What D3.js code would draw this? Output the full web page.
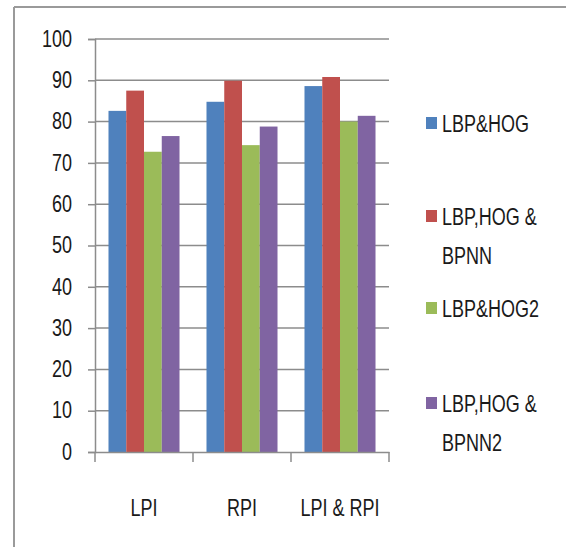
<!DOCTYPE html>
<html>
<head>
<meta charset="utf-8">
<script src="https://cdn.jsdelivr.net/npm/d3@7"></script>
<style>
	body { margin: 0; background: #fff; }
	svg text { font-family: "Liberation Sans", Arial, sans-serif; fill: #1a1a1a; }
</style>
</head>
<body>
<svg id="chart" width="566" height="547"></svg>
<script>
const categories = ['LPI', 'RPI', 'LPI & RPI'];
const seriesNames = ['LBP&HOG', 'LBP,HOG & BPNN', 'LBP&HOG2', 'LBP,HOG & BPNN2'];
const legendLines = [['LBP&HOG'], ['LBP,HOG &', 'BPNN'], ['LBP&HOG2'], ['LBP,HOG &', 'BPNN2']];
const lbpHog = [82.6, 84.8, 88.6];
const lbpHogBpnn = [87.5, 89.9, 90.8];
const lbpHog2 = [72.7, 74.3, 80.0];
const lbpHogBpnn2 = [76.5, 78.8, 81.4];
const yTicks = [0, 10, 20, 30, 40, 50, 60, 70, 80, 90, 100];
const colors = ['#4F81BD', '#C0504D', '#9BBB59', '#8064A2'];

const values = [lbpHog, lbpHogBpnn, lbpHog2, lbpHogBpnn2];
const svg = d3.select('#chart');
const stretch = 1.35;

// outer frame (only top and left edges are visible)
svg.append('line').attr('x1', 14).attr('x2', 566).attr('y1', 7).attr('y2', 7)
	.attr('stroke', '#9a9a9a').attr('stroke-width', 2);
svg.append('line').attr('x1', 14).attr('x2', 14).attr('y1', 7).attr('y2', 547)
	.attr('stroke', '#9a9a9a').attr('stroke-width', 2);

const plot = { left: 95, right: 389, top: 39, bottom: 452 };
const x0 = d3.scaleBand().domain(categories).range([plot.left, plot.right]).padding(0);
const x1 = d3.scaleBand().domain(seriesNames).range([0, x0.bandwidth()])
	.paddingInner(0).paddingOuter(0.76);
const y = d3.scaleLinear().domain([0, 100]).range([plot.bottom, plot.top]);

// gridlines
svg.append('g')
	.selectAll('line')
	.data(yTicks.filter(d => d > 0))
	.enter().append('line')
	.attr('x1', plot.left).attr('x2', plot.right)
	.attr('y1', d => y(d)).attr('y2', d => y(d))
	.attr('stroke', '#8c8c8c').attr('stroke-width', 1.5);

// bars
const groups = svg.append('g')
	.selectAll('g')
	.data(categories)
	.enter().append('g')
	.attr('transform', d => `translate(${x0(d)},0)`);

groups.selectAll('rect')
	.data((c, ci) => seriesNames.map((s, si) => ({ s, si, v: values[si][ci] })))
	.enter().append('rect')
	.attr('x', d => x1(d.s))
	.attr('width', x1.bandwidth())
	.attr('y', d => y(d.v))
	.attr('height', d => y(0) - y(d.v))
	.attr('fill', d => colors[d.si]);

// y axis
const yAxis = svg.append('g')
	.attr('transform', `translate(${plot.left},0)`)
	.call(d3.axisLeft(y).tickValues(yTicks).tickSize(7).tickPadding(16));
yAxis.select('.domain').attr('stroke', '#8c8c8c').attr('stroke-width', 1.5);
yAxis.selectAll('.tick line').attr('stroke', '#8c8c8c').attr('stroke-width', 1.5);
yAxis.selectAll('.tick text')
	.attr('font-size', 18)
	.attr('font-family', '"Liberation Sans", Arial, sans-serif')
	.attr('fill', '#1a1a1a')
	.attr('dy', '0.3em')
	.attr('transform', `scale(1,${stretch})`);

// x axis
const xAxis = svg.append('g')
	.attr('transform', `translate(0,${plot.bottom})`)
	.call(d3.axisBottom(x0).tickValues([]).tickSizeOuter(0));
xAxis.select('.domain').attr('stroke', '#8c8c8c').attr('stroke-width', 1.5);
xAxis.selectAll('.sep')
	.data(categories.concat(['end']))
	.enter().append('line')
	.attr('class', 'sep')
	.attr('x1', (d, i) => i < categories.length ? x0(d) : plot.right)
	.attr('x2', (d, i) => i < categories.length ? x0(d) : plot.right)
	.attr('y1', 0).attr('y2', 10)
	.attr('stroke', '#8c8c8c').attr('stroke-width', 1.5);

svg.append('g')
	.selectAll('text')
	.data(categories)
	.enter().append('text')
	.attr('transform', d => `translate(${x0(d) + x0.bandwidth() / 2},516) scale(1,${stretch})`)
	.attr('text-anchor', 'middle')
	.attr('font-size', 18)
	.text(d => d);

// legend
const legendY = [123, 216, 308, 403];
const legend = svg.append('g')
	.selectAll('g')
	.data(seriesNames)
	.enter().append('g')
	.attr('transform', (d, i) => `translate(426,${legendY[i]})`);

legend.append('rect')
	.attr('x', 0).attr('y', -6)
	.attr('width', 11).attr('height', 12)
	.attr('fill', (d, i) => colors[i]);

legend.each(function (d, i) {
	d3.select(this).selectAll('text')
		.data(legendLines[i])
		.enter().append('text')
		.attr('transform', (t, j) => `translate(16,${9 + j * 39}) scale(1,${stretch})`)
		.attr('font-size', 18)
		.text(t => t);
});
</script>
</body>
</html>
